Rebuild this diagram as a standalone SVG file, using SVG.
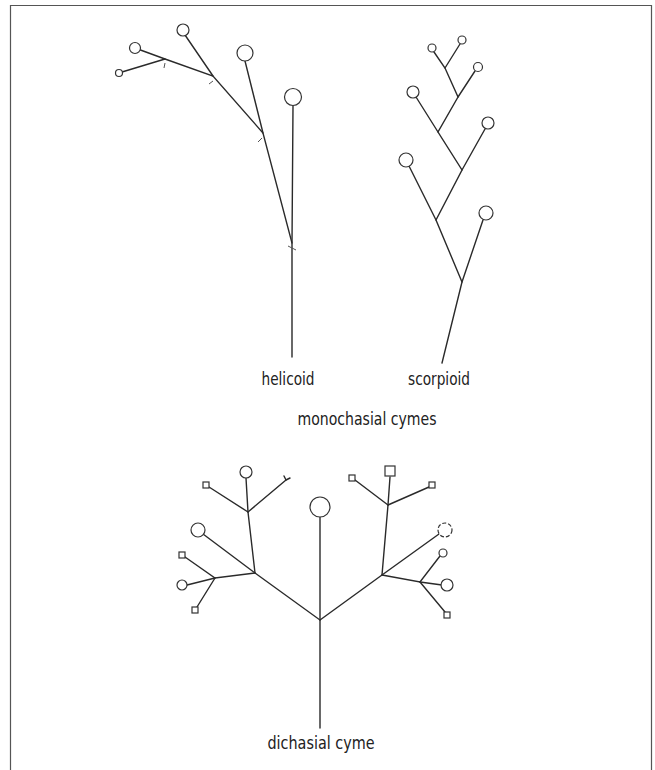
<svg xmlns="http://www.w3.org/2000/svg" width="655" height="770" viewBox="0 0 655 770">
<style>
.e{stroke:#2a2a2a;stroke-width:1.4;fill:none;stroke-linecap:round}
.t{stroke:#555;stroke-width:1;fill:none}
.f{stroke:#333;stroke-width:1.2;fill:#fff}
.lb{font-family:"DejaVu Sans Condensed","DejaVu Sans",sans-serif;font-size:17px;fill:#222;text-anchor:middle}
</style>
<rect width="655" height="770" fill="#fff"/>
<path d="M10.5,770 V5.5 H651.5 V770" fill="none" stroke="#555" stroke-width="1.2"/>
<g id="connectors">
<!-- helicoid -->
<path class="e" d="M292,357 L292,243 L263,133 L213,76 L165,59 L135,48"/>
<path class="e" d="M292,243 L293,106"/>
<path class="e" d="M263,133 L245,61"/>
<path class="e" d="M213,76 L185,35"/>
<path class="e" d="M165,59 L122,72"/>
<path class="t" d="M288,246 L296,250 M262,138 L258,142 M213,81 L209,84 M165,63 L164,68"/>
<!-- scorpioid -->
<path class="e" d="M442,363 L462,282 L436,220 L462,170 L438,132 L458,97 L445,68 L434,52"/>
<path class="e" d="M462,282 L483,220"/>
<path class="e" d="M436,220 L409,166"/>
<path class="e" d="M462,170 L485,129"/>
<path class="e" d="M438,132 L416,97"/>
<path class="e" d="M458,97 L475,71"/>
<path class="e" d="M445,68 L460,44"/>
<!-- dichasial -->
<path class="e" d="M320,728 L320,620 L255,573 L203,534"/>
<path class="e" d="M320,620 L320,517"/>
<path class="e" d="M255,573 L248,512 L246,478"/>
<path class="e" d="M248,512 L209,487"/>
<path class="e" d="M248,512 L286,480"/>
<path class="e" d="M255,573 L215,578 L185,557"/>
<path class="e" d="M215,578 L187,585"/>
<path class="e" d="M215,578 L197,607"/>
<path class="e" d="M320,620 L382,575 L439,534"/>
<path class="e" d="M382,575 L388,505 L390,477"/>
<path class="e" d="M388,505 L355,480"/>
<path class="e" d="M388,505 L429,487"/>
<path class="e" d="M382,575 L420,582 L440,556"/>
<path class="e" d="M420,582 L442,585"/>
<path class="e" d="M420,582 L445,612"/>
</g>
<g id="helicoid">
<circle class="f" cx="293" cy="97" r="8.5"/>
<circle class="f" cx="245" cy="53" r="8"/>
<circle class="f" cx="183" cy="30" r="6"/>
<circle class="f" cx="135" cy="48" r="5.5"/>
<circle class="f" cx="119" cy="73" r="3.5"/>
</g>
<g id="scorpioid">
<circle class="f" cx="486" cy="213" r="7"/>
<circle class="f" cx="406" cy="160" r="7"/>
<circle class="f" cx="488" cy="123" r="6"/>
<circle class="f" cx="413" cy="92" r="6"/>
<circle class="f" cx="478" cy="67" r="4.5"/>
<circle class="f" cx="432" cy="48" r="4"/>
<circle class="f" cx="462" cy="40" r="4"/>
</g>
<g id="dichasial">
<circle class="f" cx="320" cy="507" r="10"/>
<circle class="f" cx="198" cy="530" r="7"/>
<circle class="f" cx="246" cy="472" r="6"/>
<rect class="f" x="203" y="482" width="6" height="6"/>
<path class="e" d="M286,480 L284,476 M286,480 L290,478"/>
<rect class="f" x="179" y="552" width="6" height="6"/>
<circle class="f" cx="182" cy="585" r="5"/>
<rect class="f" x="192" y="607" width="6" height="6"/>
<circle class="f" cx="445" cy="530" r="7" stroke-dasharray="4 2"/>
<rect class="f" x="385" y="466" width="10" height="10"/>
<rect class="f" x="349" y="475" width="6" height="6"/>
<rect class="f" x="429" y="482" width="6" height="6"/>
<circle class="f" cx="443" cy="553" r="4"/>
<circle class="f" cx="447" cy="585" r="6"/>
<rect class="f" x="444" y="612" width="6" height="6"/>
</g>
<g id="labels">
<text class="lb" x="288" y="385" textLength="53" lengthAdjust="spacingAndGlyphs">helicoid</text>
<text class="lb" x="439" y="385" textLength="62" lengthAdjust="spacingAndGlyphs">scorpioid</text>
<text class="lb" x="367" y="425" textLength="139" lengthAdjust="spacingAndGlyphs">monochasial cymes</text>
<text class="lb" x="321" y="749" textLength="107" lengthAdjust="spacingAndGlyphs">dichasial cyme</text>
</g>
</svg>
